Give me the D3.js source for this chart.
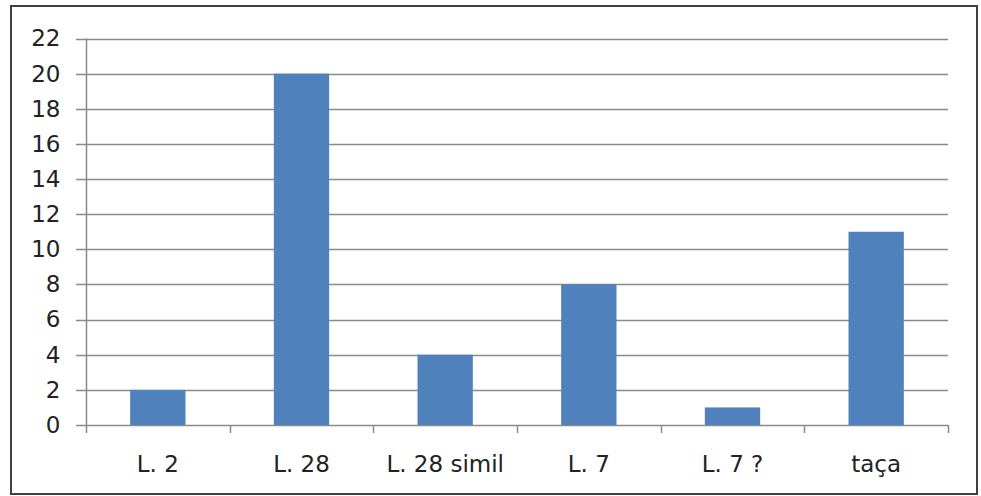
<!DOCTYPE html>
<html><head><meta charset="utf-8">
<script src="https://cdn.jsdelivr.net/npm/d3@7"></script>
<style>html,body{margin:0;padding:0;background:#fff;}svg{display:block;}</style>
</head><body>
<svg id="chart" width="981" height="496"></svg>
<script>
const categories = ["L. 2", "L. 28", "L. 28 simil", "L. 7", "L. 7 ?", "taça"];
const values = [2, 20, 4, 8, 1, 11];
const yTicks = [0, 2, 4, 6, 8, 10, 12, 14, 16, 18, 20, 22];

const svg = d3.select("#chart");
const W = 981, H = 496;
const m = {left: 86, right: 33, top: 38.5, bottom: 71};
const x = d3.scaleBand().domain(categories).range([m.left, W - m.right]).paddingInner(0.615).paddingOuter(0.3075);
const xOuter = d3.scaleBand().domain(categories).range([m.left, W - m.right]);
const y = d3.scaleLinear().domain([0, 22]).range([425, m.top]);

svg.append("rect").attr("x", 11).attr("y", 6).attr("width", 966).attr("height", 488)
  .attr("fill", "#fff").attr("stroke", "#404040").attr("stroke-width", 2);

const font = "'DejaVu Sans', Verdana, sans-serif";
const gridColor = "#8a8a8a";
const fs = 23;

// gridlines
svg.append("g").selectAll("line").data(yTicks).join("line")
  .attr("x1", m.left - 10).attr("x2", W - m.right)
  .attr("y1", d => Math.round(y(d)) + 0.5).attr("y2", d => Math.round(y(d)) + 0.5)
  .attr("stroke", gridColor).attr("stroke-width", 1.5);

// bars
svg.append("g").selectAll("rect").data(categories).join("rect")
  .attr("x", d => x(d)).attr("width", x.bandwidth())
  .attr("y", (d, i) => y(values[i])).attr("height", (d, i) => y(0) - y(values[i]))
  .attr("fill", "#4F81BD");

// y axis
const yAxis = d3.axisLeft(y).tickValues(yTicks).tickSize(0).tickPadding(26);
const gy = svg.append("g").attr("transform", `translate(${m.left + 0.5},0)`).call(yAxis);
gy.select(".domain").remove();
gy.selectAll("text").attr("font-family", font).attr("font-size", fs).attr("fill", "#222");
svg.append("line").attr("x1", m.left + 0.5).attr("x2", m.left + 0.5)
  .attr("y1", y(22)).attr("y2", y(0)).attr("stroke", gridColor).attr("stroke-width", 1.5);

// x axis
const xAxis = d3.axisBottom(xOuter).tickSize(0).tickPadding(30);
const gx = svg.append("g").attr("transform", `translate(0,${Math.round(y(0)) + 0.5})`).call(xAxis);
gx.select(".domain").remove();
gx.selectAll("text").attr("font-family", font).attr("font-size", fs).attr("fill", "#222");
const boundaries = categories.map(c => xOuter(c)).concat([W - m.right]);
svg.append("g").selectAll("line").data(boundaries).join("line")
  .attr("x1", d => Math.round(d) + 0.5).attr("x2", d => Math.round(d) + 0.5)
  .attr("y1", y(0)).attr("y2", y(0) + 8)
  .attr("stroke", gridColor).attr("stroke-width", 1.5);
</script>
</body></html>
